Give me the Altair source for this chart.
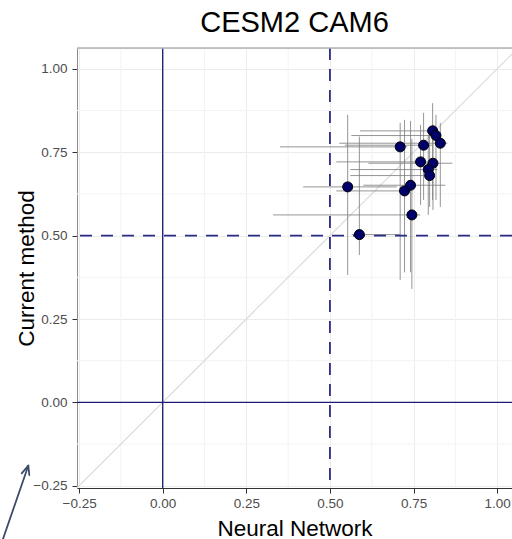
import altair as alt
import pandas as pd

# ---- data ----
nn    = [0.807, 0.817, 0.830, 0.710, 0.780, 0.771, 0.808, 0.794, 0.798, 0.741, 0.723, 0.553, 0.745, 0.588]
cm    = [0.814, 0.800, 0.777, 0.766, 0.771, 0.721, 0.717, 0.698, 0.680, 0.651, 0.634, 0.646, 0.562, 0.503]
nn_lo = [0.590, 0.564, 0.528, 0.351, 0.545, 0.519, 0.615, 0.561, 0.561, 0.600, 0.519, 0.420, 0.330, 0.565]
nn_hi = [0.820, 0.821, 0.851, 0.731, 0.806, 0.791, 0.866, 0.821, 0.809, 0.845, 0.729, 0.700, 0.770, 0.710]
cm_lo = [0.607, 0.607, 0.586, 0.367, 0.607, 0.592, 0.577, 0.562, 0.586, 0.390, 0.390, 0.382, 0.340, 0.442]
cm_hi = [0.897, 0.862, 0.838, 0.838, 0.868, 0.832, 0.832, 0.802, 0.802, 0.844, 0.847, 0.862, 0.790, 0.797]

tick_values = [-0.25, 0.0, 0.25, 0.5, 0.75, 1.0]
minor_breaks = [-0.125, 0.125, 0.375, 0.625, 0.875]
solid_ref = [0.0]
dashed_ref = [0.5]
diag_ends = [-0.3, 1.1]

x_domain = [-0.2562, 1.0443]
y_domain = [-0.2566, 1.0624]

df = pd.DataFrame(dict(nn=nn, cm=cm, nn_lo=nn_lo, nn_hi=nn_hi, cm_lo=cm_lo, cm_hi=cm_hi))
minor_df = pd.DataFrame(dict(v=minor_breaks))
solid_df = pd.DataFrame(dict(v=solid_ref))
dashed_df = pd.DataFrame(dict(v=dashed_ref))
diag_df = pd.DataFrame(dict(v=diag_ends))
one = pd.DataFrame(dict(a=[0]))

FONT = "Liberation Sans"

xscale = alt.Scale(domain=x_domain, nice=False, zero=False)
yscale = alt.Scale(domain=y_domain, nice=False, zero=False)

xaxis = alt.Axis(values=tick_values, format=".2f", labelFont=FONT, labelFontSize=13.5,
                 labelColor="#4d4d4d", labelFlush=False, labelPadding=3,
                 tickColor="#333333", tickSize=5, domainColor="#333333",
                 gridColor="#ebebeb", titleFont=FONT, titleFontSize=22.5,
                 titleFontWeight="normal", titleColor="black",
                 titleBaseline="alphabetic", titleY=47)
yaxis = alt.Axis(values=tick_values, format=".2f", labelFont=FONT, labelFontSize=13.5,
                 labelColor="#4d4d4d", labelFlush=False, labelPadding=5,
                 tickColor="#333333", tickSize=5, domainColor="#8c8c8c",
                 gridColor="#ebebeb", titleFont=FONT, titleFontSize=22.5,
                 titleFontWeight="normal", titleColor="black",
                 titleBaseline="alphabetic", titleX=-44, titleY=220)


def X(f):
    return alt.X(f, type="quantitative", scale=xscale, axis=xaxis, title="Neural Network")


def Y(f):
    return alt.Y(f, type="quantitative", scale=yscale, axis=yaxis, title="Current method")


base = alt.Chart(df)

minor_x = alt.Chart(minor_df).mark_rule(color="#f3f3f3", strokeWidth=1, clip=True).encode(x=X("v"))
minor_y = alt.Chart(minor_df).mark_rule(color="#f3f3f3", strokeWidth=1, clip=True).encode(y=Y("v"))

diag = alt.Chart(diag_df).mark_line(color="#d9d9d9", strokeWidth=1.1, clip=True).encode(x=X("v"), y=Y("v"))

herr = base.mark_rule(color="#7a7a7a", strokeWidth=1, opacity=0.8, clip=True).encode(
    x=X("nn_lo"), x2=alt.X2("nn_hi"), y=Y("cm"))
verr = base.mark_rule(color="#7a7a7a", strokeWidth=1, opacity=0.8, clip=True).encode(
    x=X("nn"), y=Y("cm_lo"), y2=alt.Y2("cm_hi"))

solid_v = alt.Chart(solid_df).mark_rule(color="#1c1c78", strokeWidth=1.3, clip=True).encode(x=X("v"))
solid_h = alt.Chart(solid_df).mark_rule(color="#1c1c78", strokeWidth=1.3, clip=True).encode(y=Y("v"))
dash_v = alt.Chart(dashed_df).mark_rule(color="#2b2b85", strokeWidth=1.8, strokeDash=[12, 9], clip=True).encode(x=X("v"))
dash_h = alt.Chart(dashed_df).mark_rule(color="#2b2b85", strokeWidth=1.8, strokeDash=[12, 9], clip=True).encode(y=Y("v"))

points = base.mark_point(filled=True, shape="circle", size=100, fill="#00006a",
                         stroke="black", strokeWidth=1, opacity=1).encode(x=X("nn"), y=Y("cm"))

top_border = alt.Chart(one).mark_rule(color="#b3b3b3", strokeWidth=1.5).encode(
    x=alt.value(0), x2=alt.value(440), y=alt.value(0))

ARROW = "#3d4c6b"
shaft = alt.Chart(one).mark_rule(color=ARROW, strokeWidth=1.8, strokeCap="round").encode(
    x=alt.value(-74.7), y=alt.value(493), x2=alt.value(-48.7), y2=alt.value(417.7))
wing1 = alt.Chart(one).mark_rule(color=ARROW, strokeWidth=1.8, strokeCap="round").encode(
    x=alt.value(-48.7), y=alt.value(417.7), x2=alt.value(-55.3), y2=alt.value(425.3))
wing2 = alt.Chart(one).mark_rule(color=ARROW, strokeWidth=1.8, strokeCap="round").encode(
    x=alt.value(-48.7), y=alt.value(417.7), x2=alt.value(-47.7), y2=alt.value(427.0))

chart = alt.layer(
    minor_x, minor_y, diag, herr, verr, solid_v, solid_h, dash_v, dash_h, points,
    top_border, shaft, wing1, wing2
).properties(
    width=435, height=440,
    title=alt.TitleParams("CESM2 CAM6", font=FONT, fontSize=29, fontWeight="normal",
                          color="black", anchor="middle", offset=9),
    padding={"left": 77, "top": 48, "right": 0, "bottom": 51},
    autosize=alt.AutoSizeParams(type="none"),
).configure_view(stroke=None).configure(background="white")

chart.save("out.html", embed_options={"renderer": "svg", "actions": False})
